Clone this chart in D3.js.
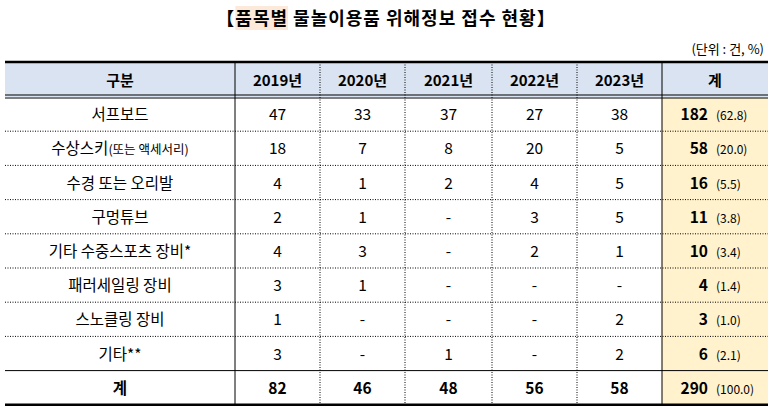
<!DOCTYPE html>
<html><head><meta charset="utf-8">
<script src="https://cdn.jsdelivr.net/npm/d3@7"></script>
<style>body{margin:0;background:#fff}text{font-family:"Noto Sans CJK KR","Noto Sans",sans-serif;fill:#000}</style>
</head><body><div id="chart"></div>
<script>
var titleParts = ["【", "품목별", " 물놀이용품 위해정보 접수 현황】"];
var unit = "(단위 : 건, %)";
var years = ["2019년", "2020년", "2021년", "2022년", "2023년"];
var items = ["서프보드", "수상스키", "수경 또는 오리발", "구멍튜브", "기타 수중스포츠 장비*", "패러세일링 장비", "스노클링 장비", "기타**"];
var itemNotes = ["", "(또는 액세서리)", "", "", "", "", "", ""];
var counts = [
  [47, 33, 37, 27, 38],
  [18, 7, 8, 20, 5],
  [4, 1, 2, 4, 5],
  [2, 1, null, 3, 5],
  [4, 3, null, 2, 1],
  [3, 1, null, null, null],
  [1, null, null, null, 2],
  [3, null, 1, null, 2]
];
var totals = [182, 58, 16, 11, 10, 4, 3, 6];
var shares = ["62.8", "20.0", "5.5", "3.8", "3.4", "1.4", "1.0", "2.1"];
var yearTotals = [82, 46, 48, 56, 58];
var grandTotal = 290, grandShare = "100.0";

var W = 772, H = 410, left = 5, right = 768, tableTop = 62, headH = 35, rowH = 34.2;
var svg = d3.select("#chart").append("svg").attr("width", W).attr("height", H);

// column edges
var edges = [left, 235, 320, 405, 492, 577, 662, right];
var nRows = items.length + 1;
var y = d3.scaleLinear().domain([0, nRows]).range([tableTop + headH, tableTop + headH + nRows * rowH]);
var yBottom = y(nRows);

// backgrounds
svg.append("rect").attr("x", left).attr("y", tableTop).attr("width", right - left).attr("height", headH).attr("fill", "#dae3f1");
svg.append("rect").attr("x", edges[6]).attr("y", y(0)).attr("width", right - edges[6]).attr("height", yBottom - y(0)).attr("fill", "#fff2cc");

// title with highlighted word
var hl = svg.append("rect").attr("fill", "#fde9d9");
var tt = svg.append("text").attr("x", W / 2).attr("y", 25).attr("text-anchor", "middle")
  .attr("font-size", 18).attr("font-weight", "bold").attr("letter-spacing", 1).attr("xml:space", "preserve");
var spans = tt.selectAll("tspan").data(titleParts).enter().append("tspan").text(function (d) { return d; });
var bb = spans.nodes()[1].getBBox();
hl.attr("x", bb.x).attr("y", bb.y + 2).attr("width", bb.width).attr("height", bb.height - 2);
svg.append("text").attr("x", 764).attr("y", 54).attr("text-anchor", "end").attr("font-size", 13).text(unit);

// header text
var cx = function (i) { return (edges[i] + edges[i + 1]) / 2; };
var headers = ["구분"].concat(years).concat(["계"]);
svg.selectAll(".hd").data(headers).enter().append("text")
  .attr("x", function (d, i) { return cx(i); }).attr("y", tableTop + headH / 2 + 6)
  .attr("text-anchor", "middle").attr("font-size", 15).attr("font-weight", "bold").text(function (d) { return d; });

// body rows
items.forEach(function (name, r) {
  var ym = (y(r) + y(r + 1)) / 2 + 6;
  var t = svg.append("text").attr("x", cx(0)).attr("y", ym).attr("text-anchor", "middle").attr("font-size", 15.5);
  t.append("tspan").text(name);
  if (itemNotes[r]) t.append("tspan").attr("font-size", 12.5).text(itemNotes[r]);
  counts[r].forEach(function (v, c) {
    svg.append("text").attr("x", cx(c + 1)).attr("y", ym).attr("text-anchor", "middle").attr("font-size", 15.5).text(v == null ? "-" : v);
  });
  svg.append("text").attr("x", 708).attr("y", ym).attr("text-anchor", "end").attr("font-size", 15.5).attr("font-weight", "bold").text(totals[r]);
  svg.append("text").attr("x", 716).attr("y", ym).attr("font-size", 12).text("(" + shares[r] + ")");
});
var yl = (y(nRows - 1) + y(nRows)) / 2 + 6;
svg.append("text").attr("x", cx(0)).attr("y", yl).attr("text-anchor", "middle").attr("font-size", 15.5).attr("font-weight", "bold").text("계");
yearTotals.forEach(function (v, c) {
  svg.append("text").attr("x", cx(c + 1)).attr("y", yl).attr("text-anchor", "middle").attr("font-size", 15.5).attr("font-weight", "bold").text(v);
});
svg.append("text").attr("x", 708).attr("y", yl).attr("text-anchor", "end").attr("font-size", 15.5).attr("font-weight", "bold").text(grandTotal);
svg.append("text").attr("x", 716).attr("y", yl).attr("font-size", 12).text("(" + grandShare + ")");

// lines
function hline(yy, w, dash) {
  svg.append("line").attr("x1", left).attr("x2", right).attr("y1", yy).attr("y2", yy)
    .attr("stroke", "#000").attr("stroke-width", w).attr("stroke-dasharray", dash || null);
}
hline(tableTop, 2.5);
hline(y(0) - 2, 1); hline(y(0) + 1, 1);
for (var r = 1; r < nRows - 1; r++) hline(y(r), 1, "1,1.5");
hline(y(nRows - 1), 1);
hline(yBottom, 2.5);
edges.slice(1, 7).forEach(function (x, i) {
  var solid = (i === 0 || i === 5);
  svg.append("line").attr("x1", x).attr("x2", x).attr("y1", tableTop).attr("y2", yBottom)
    .attr("stroke", "#000").attr("stroke-width", 1).attr("stroke-dasharray", solid ? null : "1,1.5");
});
</script></body></html>
